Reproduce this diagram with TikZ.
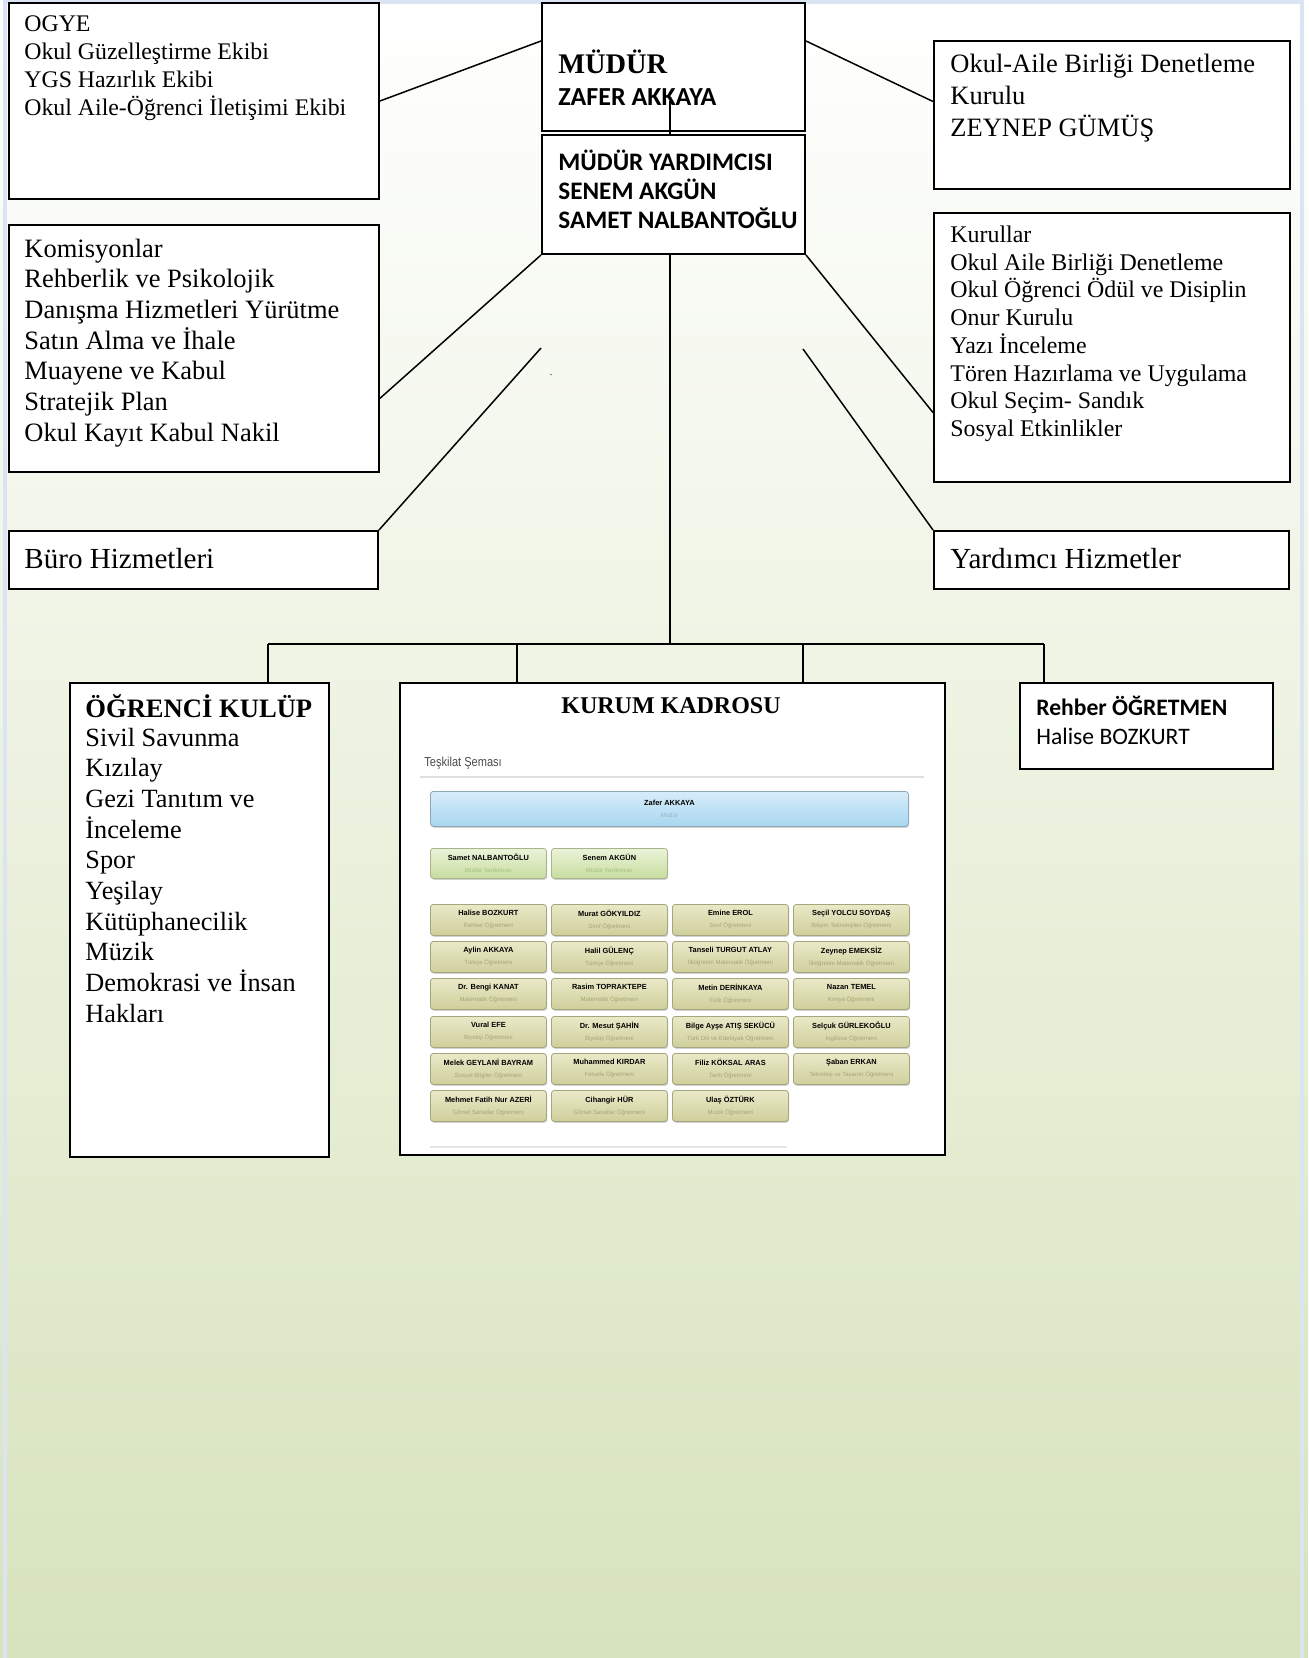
\documentclass[tikz,border=0pt]{standalone}
\usepackage{fontspec}
\setmainfont{Liberation Serif}
\newfontfamily\calibri{Carlito}
\newfontfamily\arial{Liberation Sans}
\newfontfamily\arialnarrow[FakeStretch=0.85]{Liberation Sans}
\usetikzlibrary{calc,shadows}

\definecolor{bggreen}{HTML}{D7E3BC}
\definecolor{framecol}{HTML}{DAE4F2}
\definecolor{bluetop}{HTML}{D6EDFA}
\definecolor{bluebot}{HTML}{A8D6F0}
\definecolor{bluedraw}{HTML}{8FA8B8}
\definecolor{blueinfo}{HTML}{94B4C6}
\definecolor{greentop}{HTML}{EBF3D9}
\definecolor{greenbot}{HTML}{C8DC9F}
\definecolor{greendraw}{HTML}{A6B58A}
\definecolor{greeninfo}{HTML}{A3BE7A}
\definecolor{olivetop}{HTML}{EAE9C8}
\definecolor{olivebot}{HTML}{CFCF9C}
\definecolor{olivedraw}{HTML}{A5A57E}
\definecolor{oliveinfo}{HTML}{A8A477}

\begin{document}
\begin{tikzpicture}[x=0.5pt, y=-0.5pt,
    box/.style={draw, fill=white, line width=1pt, inner sep=0pt, anchor=north west},
    link/.style={line width=0.75pt},
    txt/.style={anchor=base west, align=left, inner sep=0pt},
    card/.style={anchor=north west, rounded corners=1.5pt, inner sep=0pt,
        minimum width=58pt, minimum height=15.5pt, align=center,
        font=\arial\fontsize{3.7}{6}\selectfont,
        drop shadow={shadow xshift=0.4pt, shadow yshift=-0.7pt, opacity=0.35}},
    staff/.style={card, draw=olivedraw, top color=olivetop, bottom color=olivebot},
    deputy/.style={card, draw=greendraw, top color=greentop, bottom color=greenbot}]

    % Background and page frame
    \useasboundingbox (0,0) rectangle (1308,1658);
    \shade[top color=white, bottom color=bggreen] (0,0) rectangle (1308,1658);
    \draw[framecol, line width=2pt] (5,1658) -- (5,2) -- (1302,2) -- (1302,1658);

    % Top row boxes (text nodes sit on the baseline of their last line)
    \node[box, minimum width=185pt, minimum height=98pt] (ogye) at (8,2) {};
    \node[txt, font=\fontsize{11.9}{13.95}\selectfont] (ogyetxt) at (24,115.7)
        {OGYE\\Okul Güzelleştirme Ekibi\\YGS Hazırlık Ekibi\\Okul Aile-Öğrenci İletişimi Ekibi};

    \node[box, minimum width=131.5pt, minimum height=64pt] (mudur) at (541,2) {};
    \node[txt, font=\bfseries\fontsize{14.2}{16}\selectfont] (mudurtitle) at (558,74) {MÜDÜR};
    \node[txt, font=\calibri\bfseries\fontsize{13}{14.5}\selectfont] (mudurname) at (558,106) {ZAFER AKKAYA};

    \node[box, minimum width=131.5pt, minimum height=59.5pt] (yard) at (541,134) {};
    \node[txt, font=\calibri\bfseries\fontsize{12.6}{14.5}\selectfont] (yardtxt) at (558,229)
        {MÜDÜR YARDIMCISI\\SENEM AKGÜN\\SAMET NALBANTOĞLU};

    \node[box, minimum width=178pt, minimum height=74pt] (okulaile) at (933,40) {};
    \node[txt, font=\fontsize{13.25}{15.8}\selectfont] (okulailetxt) at (950,136.2)
        {Okul-Aile Birliği Denetleme\\Kurulu\\ZEYNEP GÜMÜŞ};

    % Middle boxes
    \node[box, minimum width=185pt, minimum height=123.5pt] (komis) at (8,224) {};
    \node[txt, font=\fontsize{13.25}{15.35}\selectfont] (komistxt) at (24,441.2)
        {Komisyonlar\\Rehberlik ve Psikolojik\\Danışma Hizmetleri Yürütme\\Satın Alma ve İhale\\Muayene ve Kabul\\Stratejik Plan\\Okul Kayıt Kabul Nakil};

    \node[box, minimum width=178pt, minimum height=134.5pt] (kurullar) at (933,212) {};
    \node[txt, font=\fontsize{11.95}{13.85}\selectfont] (kurullartxt) at (950,436.4)
        {Kurullar\\Okul Aile Birliği Denetleme\\Okul Öğrenci Ödül ve Disiplin\\Onur Kurulu\\Yazı İnceleme\\Tören Hazırlama ve Uygulama\\Okul Seçim- Sandık\\Sosyal Etkinlikler};

    \node[box, minimum width=184.5pt, minimum height=29pt] (buro) at (8,530) {};
    \node[txt, font=\fontsize{14.55}{16}\selectfont] (burotxt) at (24,568) {Büro Hizmetleri};

    \node[box, minimum width=177.5pt, minimum height=29pt] (yardhiz) at (933,530) {};
    \node[txt, font=\fontsize{14.55}{16}\selectfont] (yardhiztxt) at (950,568) {Yardımcı Hizmetler};

    \node[inner sep=0pt, font=\fontsize{5}{5}\selectfont] (dot) at (551,375) {.};

    % Links to the side boxes
    \draw[link] (ogye.east) -- ($(mudur.north west)!0.3!(mudur.south west)$);
    \draw[link] ($(mudur.north east)!0.3!(mudur.south east)$) -- ($(okulaile.north west)!0.41!(okulaile.south west)$);
    \draw[link] (yard.south west) -- ($(komis.north east)!0.7!(komis.south east)$);
    \draw[link] (yard.south east) -- ($(kurullar.north west)!0.74!(kurullar.south west)$);
    \coordinate (buroend) at (541,348);
    \coordinate (yardhizend) at (803,349);
    \draw[link] (buroend) -- (buro.north east);
    \draw[link] (yardhizend) -- (yardhiz.north west);

    % Stem and trunk
    \coordinate (stemtop) at (670,101);
    \coordinate (bus) at (670,644);
    \draw[link] (stemtop) -- (stemtop |- yard.north);
    \draw[link] (yard.south -| bus) -- (bus);

    % Bottom boxes
    \node[box, minimum width=129.5pt, minimum height=237pt] (kulup) at (69,682) {};
    \node[txt, font=\bfseries\fontsize{13.3}{15}\selectfont] (kuluptitle) at (85,717) {ÖĞRENCİ KULÜP};
    \node[txt, font=\fontsize{13.15}{15.35}\selectfont] (kuluptxt) at (85,1022.3)
        {Sivil Savunma\\Kızılay\\Gezi Tanıtım ve\\İnceleme\\Spor\\Yeşilay\\Kütüphanecilik\\Müzik\\Demokrasi ve İnsan\\Hakları};

    \node[box, minimum width=272.5pt, minimum height=236pt] (kurum) at (399,682) {};
    \node[anchor=base, inner sep=0pt, font=\bfseries\fontsize{12}{14}\selectfont] (kurumtitle) at (671,713) {KURUM KADROSU};

    \node[box, minimum width=126.5pt, minimum height=43pt] (rehber) at (1019,682) {};
    \node[txt, font=\calibri\fontsize{11.8}{14.5}\selectfont] (rehbertxt) at (1036,744)
        {\textbf{Rehber ÖĞRETMEN}\\Halise BOZKURT};

    % Bus and drops
    \coordinate (dropa) at (268,644);
    \coordinate (dropb) at (517,644);
    \coordinate (dropc) at (803,644);
    \coordinate (dropd) at (1044,644);
    \draw[link] (dropa) -- (dropd);
    \draw[link] (dropa) -- (dropa |- kulup.north);
    \draw[link] (dropb) -- (dropb |- kurum.north);
    \draw[link] (dropc) -- (dropc |- kurum.north);
    \draw[link] (dropd) -- (dropd |- rehber.north);

    % Teskilat semasi picture
    \node[anchor=base west, inner sep=0pt, font=\arialnarrow\fontsize{6.5}{7}\selectfont, text=black!70] (semahead) at (424,766) {Teşkilat Şeması};
    \draw[black!12, line width=0.6pt] (420,777) -- (924,777);
    \draw[black!10, line width=0.6pt] (430,1147) -- (787,1147);

    \node[card, draw=bluedraw, top color=bluetop, bottom color=bluebot, minimum width=239pt, minimum height=17.5pt] (zafer) at (430,791)
        {\textbf{Zafer AKKAYA}\\\textcolor{blueinfo}{\fontsize{3}{6}\selectfont Müdür}};
    \node[deputy, minimum height=15pt] (samet) at (430,848) {\textbf{Samet NALBANTOĞLU}\\\textcolor{greeninfo}{\fontsize{3}{6}\selectfont Müdür Yardımcısı}};
    \node[deputy, minimum height=15pt] (senem) at (551,848) {\textbf{Senem AKGÜN}\\\textcolor{greeninfo}{\fontsize{3}{6}\selectfont Müdür Yardımcısı}};

    % Teachers, row 1
    \node[staff] (t11) at (430,904) {\textbf{Halise BOZKURT}\\\textcolor{oliveinfo}{\fontsize{3}{6}\selectfont Rehber Öğretmeni}};
    \node[staff] (t12) at (551,904) {\textbf{Murat GÖKYILDIZ}\\\textcolor{oliveinfo}{\fontsize{3}{6}\selectfont Sınıf Öğretmeni}};
    \node[staff] (t13) at (672,904) {\textbf{Emine EROL}\\\textcolor{oliveinfo}{\fontsize{3}{6}\selectfont Sınıf Öğretmeni}};
    \node[staff] (t14) at (793,904) {\textbf{Seçil YOLCU SOYDAŞ}\\\textcolor{oliveinfo}{\fontsize{3}{6}\selectfont Bilişim Teknolojileri Öğretmeni}};
    % row 2
    \node[staff] (t21) at (430,941) {\textbf{Aylin AKKAYA}\\\textcolor{oliveinfo}{\fontsize{3}{6}\selectfont Türkçe Öğretmeni}};
    \node[staff] (t22) at (551,941) {\textbf{Halil GÜLENÇ}\\\textcolor{oliveinfo}{\fontsize{3}{6}\selectfont Türkçe Öğretmeni}};
    \node[staff] (t23) at (672,941) {\textbf{Tanseli TURGUT ATLAY}\\\textcolor{oliveinfo}{\fontsize{3}{6}\selectfont İlköğretim Matematik Öğretmeni}};
    \node[staff] (t24) at (793,941) {\textbf{Zeynep EMEKSİZ}\\\textcolor{oliveinfo}{\fontsize{3}{6}\selectfont İlköğretim Matematik Öğretmeni}};
    % row 3
    \node[staff] (t31) at (430,978) {\textbf{Dr. Bengi KANAT}\\\textcolor{oliveinfo}{\fontsize{3}{6}\selectfont Matematik Öğretmeni}};
    \node[staff] (t32) at (551,978) {\textbf{Rasim TOPRAKTEPE}\\\textcolor{oliveinfo}{\fontsize{3}{6}\selectfont Matematik Öğretmeni}};
    \node[staff] (t33) at (672,978) {\textbf{Metin DERİNKAYA}\\\textcolor{oliveinfo}{\fontsize{3}{6}\selectfont Fizik Öğretmeni}};
    \node[staff] (t34) at (793,978) {\textbf{Nazan TEMEL}\\\textcolor{oliveinfo}{\fontsize{3}{6}\selectfont Kimya Öğretmeni}};
    % row 4
    \node[staff] (t41) at (430,1016) {\textbf{Vural EFE}\\\textcolor{oliveinfo}{\fontsize{3}{6}\selectfont Biyoloji Öğretmeni}};
    \node[staff] (t42) at (551,1016) {\textbf{Dr. Mesut ŞAHİN}\\\textcolor{oliveinfo}{\fontsize{3}{6}\selectfont Biyoloji Öğretmeni}};
    \node[staff] (t43) at (672,1016) {\textbf{Bilge Ayşe ATIŞ SEKÜCÜ}\\\textcolor{oliveinfo}{\fontsize{3}{6}\selectfont Türk Dili ve Edebiyatı Öğretmeni}};
    \node[staff] (t44) at (793,1016) {\textbf{Selçuk GÜRLEKOĞLU}\\\textcolor{oliveinfo}{\fontsize{3}{6}\selectfont İngilizce Öğretmeni}};
    % row 5
    \node[staff] (t51) at (430,1053) {\textbf{Melek GEYLANİ BAYRAM}\\\textcolor{oliveinfo}{\fontsize{3}{6}\selectfont Sosyal Bilgiler Öğretmeni}};
    \node[staff] (t52) at (551,1053) {\textbf{Muhammed KIRDAR}\\\textcolor{oliveinfo}{\fontsize{3}{6}\selectfont Felsefe Öğretmeni}};
    \node[staff] (t53) at (672,1053) {\textbf{Filiz KÖKSAL ARAS}\\\textcolor{oliveinfo}{\fontsize{3}{6}\selectfont Tarih Öğretmeni}};
    \node[staff] (t54) at (793,1053) {\textbf{Şaban ERKAN}\\\textcolor{oliveinfo}{\fontsize{3}{6}\selectfont Teknoloji ve Tasarım Öğretmeni}};
    % row 6
    \node[staff] (t61) at (430,1090) {\textbf{Mehmet Fatih Nur AZERİ}\\\textcolor{oliveinfo}{\fontsize{3}{6}\selectfont Görsel Sanatlar Öğretmeni}};
    \node[staff] (t62) at (551,1090) {\textbf{Cihangir HÜR}\\\textcolor{oliveinfo}{\fontsize{3}{6}\selectfont Görsel Sanatlar Öğretmeni}};
    \node[staff] (t63) at (672,1090) {\textbf{Ulaş ÖZTÜRK}\\\textcolor{oliveinfo}{\fontsize{3}{6}\selectfont Müzik Öğretmeni}};
\end{tikzpicture}
\end{document}
